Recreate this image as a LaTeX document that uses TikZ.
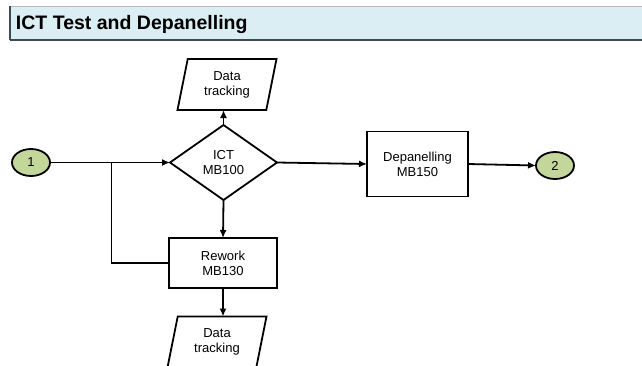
\documentclass[tikz,border=0pt]{standalone}
\usepackage{fontspec}
\setmainfont{Liberation Sans}
\usetikzlibrary{shapes.geometric,arrows.meta}
\definecolor{hdrblue}{HTML}{DAEEF3}
\definecolor{hdrline}{HTML}{3F4A52}
\definecolor{termgreen}{HTML}{C4D79B}

\begin{document}
\begin{tikzpicture}[x=1pt,y=-1pt,
 every node/.style={font=\fontsize{13}{15}\selectfont,align=center,inner sep=0pt,outer sep=0pt},
 proc/.style={draw,line width=1.8pt},
 term/.style={draw,ellipse,fill=termgreen,line width=1.8pt,minimum width=38pt,minimum height=27pt},
 iobox/.style={draw,trapezium,trapezium left angle=69,trapezium right angle=111,
   trapezium stretches body,line width=1.8pt,minimum width=99pt,minimum height=51pt},
 conn/.style={line width=1.8pt},
 arr/.style={conn,-{Latex[length=8pt,width=7pt]}}]
\useasboundingbox (0,0) rectangle (642,365);
% header
\fill[hdrblue] (10,6) rectangle (642,40);
\draw[gray!55] (10,6) -- (642,6);
\draw[hdrline,line width=1.3pt] (10,6) -- (10,40);
\draw[hdrline,line width=2pt] (10,40) -- (642,40);
\node[anchor=base west,font=\bfseries\fontsize{19.5}{22}\selectfont] (title) at (16,29) {ICT Test and Depanelling};
% nodes
\node[term] (c1) at (31,162.5) {1};
\node[proc,diamond,minimum width=107pt,minimum height=75pt] (ict) at (223.5,162.5) {ICT\\MB100};
\node[iobox] (track1) at (227,84.5) {Data\\tracking};
\node[proc,minimum width=108pt,minimum height=50pt] (rework) at (223,263) {Rework\\MB130};
\node[iobox] (track2) at (217,342) {Data\\tracking};
\node[proc,minimum width=101pt,minimum height=65pt] (dep) at (417.5,164) {Depanelling\\MB150};
\node[term] (c2) at (555,165.5) {2};
\coordinate (br) at (111.5,162.5);
% connectors
\draw[arr] (c1.east) -- (ict.west);
\draw[conn] (rework.west) -| (br);
\draw[arr] (ict.north) -- (ict.north |- track1.south);
\draw[arr] (ict.south) -- (rework.north);
\draw[arr] (rework.south) -- (rework.south |- track2.north);
\draw[arr] (ict.east) -- (dep.west);
\draw[arr] (dep.east) -- (c2.west);
\end{tikzpicture}
\end{document}
